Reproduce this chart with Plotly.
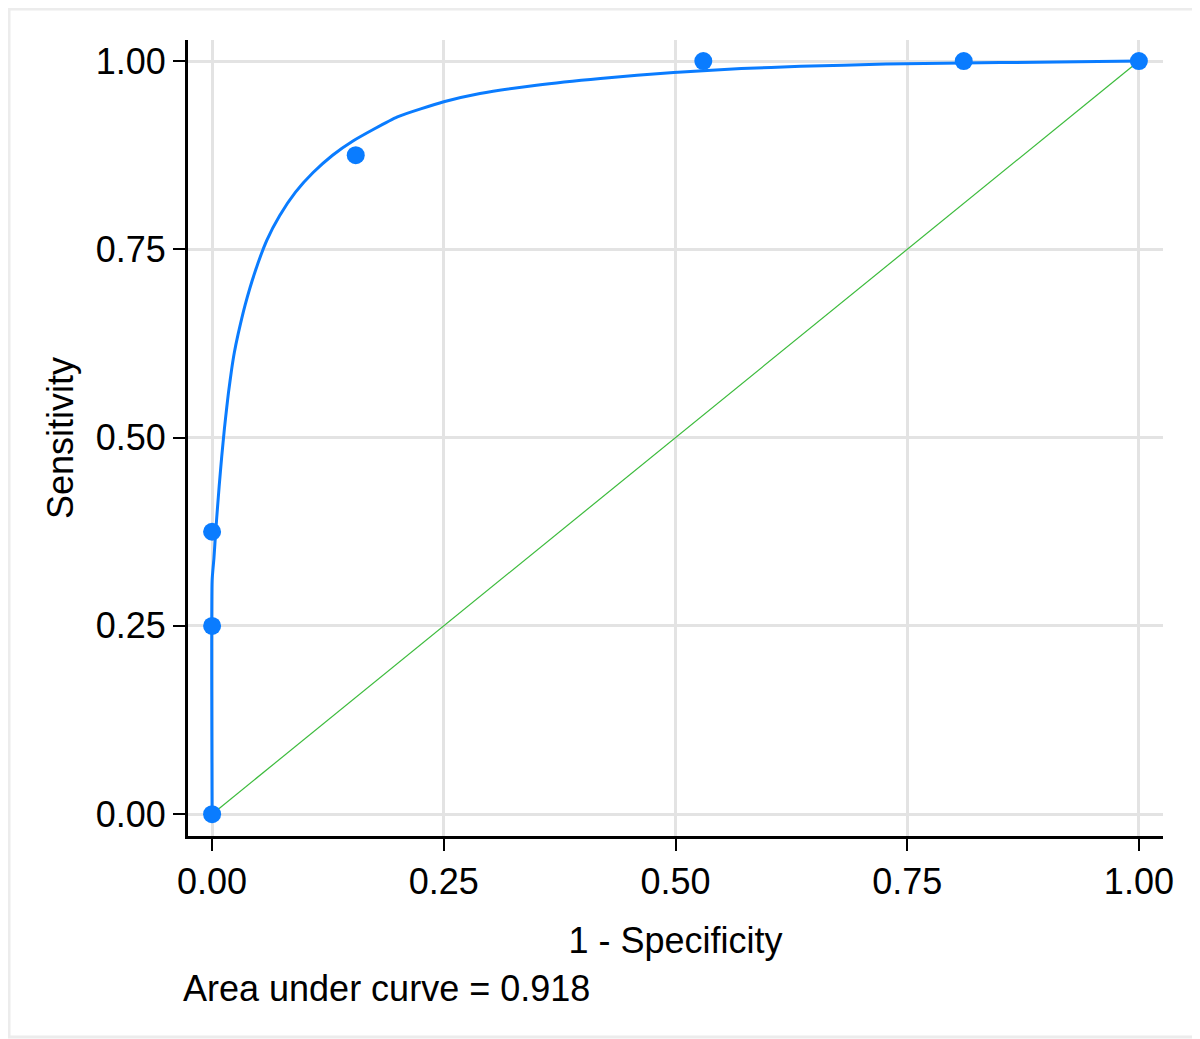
import plotly.graph_objects as go

# Empirical ROC points
emp_x = [0.0, 0.0, 0.0, 0.155, 0.53, 0.811, 1.0]
emp_y = [0.0, 0.25, 0.375, 0.875, 1.0, 1.0, 1.0]

# Fitted (smooth) ROC curve
fit_x = [0.0, 0.0, 0.002, 0.004, 0.0057, 0.0076, 0.0104, 0.0133, 0.0158, 0.0176,
         0.021, 0.024, 0.028, 0.0356, 0.046, 0.059, 0.073, 0.09, 0.109, 0.13, 0.152,
         0.2, 0.25, 0.289, 0.35, 0.419, 0.498, 0.571, 0.635, 0.727, 0.85, 1.0]
fit_y = [0.0, 0.31, 0.34, 0.377, 0.405, 0.435, 0.475, 0.512, 0.54, 0.559,
         0.59, 0.613, 0.637, 0.676, 0.719, 0.762, 0.795, 0.826, 0.852, 0.875, 0.894,
         0.926, 0.946, 0.957, 0.968, 0.977, 0.985, 0.99, 0.993, 0.996, 0.998, 1.0]

# Reference diagonal
diag_x = [0.0, 1.0]
diag_y = [0.0, 1.0]

tick_vals = [0.0, 0.25, 0.5, 0.75, 1.0]
tick_text = ["0.00", "0.25", "0.50", "0.75", "1.00"]

auc_text = "Area under curve = 0.918"

BLUE = "#0a7cff"
GREEN = "#3cbb3c"
FONT = "Liberation Sans, Arial, sans-serif"

fig = go.Figure()
fig.add_trace(go.Scatter(x=diag_x, y=diag_y, mode="lines",
                         line=dict(color=GREEN, width=1.2), hoverinfo="skip"))
fig.add_trace(go.Scatter(x=fit_x, y=fit_y, mode="lines",
                         line=dict(color=BLUE, width=3, shape="spline", smoothing=0.5),
                         hoverinfo="skip"))
fig.add_trace(go.Scatter(x=emp_x, y=emp_y, mode="markers",
                         marker=dict(color=BLUE, size=18, line=dict(width=0))))

# page body has an 8px margin; the figure is placed to compensate
OFF = 8
W, H = 1200 - OFF, 1039 - OFF
L, R, T, B = 188 - OFF, 37, 40 - OFF, 203
pw, ph = W - L - R, H - T - B

axis_common = dict(
    tickvals=tick_vals, ticktext=tick_text,
    showgrid=True, gridcolor="#e3e3e3", gridwidth=2.5,
    zeroline=False, showline=True, linecolor="black", linewidth=3,
    ticks="outside", ticklen=12, tickwidth=2, tickcolor="black",
    tickfont=dict(family=FONT, size=36, color="black"),
    automargin=False,
)

fig.update_layout(
    width=W, height=H,
    margin=dict(l=L, r=R, t=T, b=B, autoexpand=False),
    paper_bgcolor="white", plot_bgcolor="white",
    showlegend=False,
    font=dict(family=FONT, color="black"),
    xaxis=dict(range=[-0.026, 1.026],
               title=dict(text="1 - Specificity", font=dict(family=FONT, size=36), standoff=27),
               **axis_common),
    yaxis=dict(range=[-0.029, 1.028],
               title=dict(text="Sensitivity", font=dict(family=FONT, size=36), standoff=12),
               **axis_common),
    annotations=[dict(text=auc_text, xref="paper", yref="paper",
                      x=-7 / pw, y=-152 / ph,
                      xanchor="left", yanchor="middle", showarrow=False,
                      font=dict(family=FONT, size=36, color="black"))],
    shapes=[dict(type="rect", xref="paper", yref="paper",
                 x0=-(L - 1) / pw, x1=1 + (R - 3) / pw,
                 y0=-(B - 2) / ph, y1=1 + (T - 1) / ph,
                 line=dict(color="#ececec", width=3), layer="below")],
)

fig.write_html("out.html")
